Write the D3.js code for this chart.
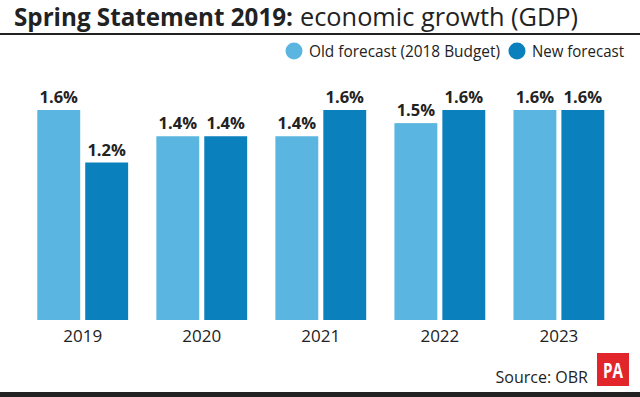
<!DOCTYPE html>
<html>
<head>
<meta charset="utf-8">
<script src="https://cdn.jsdelivr.net/npm/d3@7"></script>
<style>
  html, body { margin:0; padding:0; background:#fff; }
  svg { display:block; font-family:"Open Sans", "DejaVu Sans", sans-serif; }
</style>
</head>
<body>
<svg id="chart" width="640" height="397"></svg>
<script>
// --- data ---
const years = ['2019', '2020', '2021', '2022', '2023'];
const oldForecast = [1.6, 1.4, 1.4, 1.5, 1.6];
const newForecast = [1.2, 1.4, 1.6, 1.6, 1.6];
const seriesKeys = ['old', 'new'];
const seriesLabels = ['Old forecast (2018 Budget)', 'New forecast'];

const colors = { old:'#5ab6e0', new:'#0a80bd' };
const ink = '#222';

const rows = years.map((y, i) => ({ year:y, old:oldForecast[i], new:newForecast[i] }));

const svg = d3.select('#chart');
const W = 640, H = 397;

// squeeze text to a target width (source uses a condensed face)
function fit(sel, w){ sel.attr('textLength', w).attr('lengthAdjust', 'spacingAndGlyphs'); }

// --- title ---
fit(svg.append('text').attr('x', 14).attr('y', 26)
  .attr('font-size', 25).attr('font-weight', 700).attr('fill', ink)
  .text('Spring Statement 2019:'), 279);
fit(svg.append('text').attr('x', 300).attr('y', 26)
  .attr('font-size', 25).attr('fill', ink)
  .text('economic growth (GDP)'), 278);
svg.append('rect').attr('x', 0).attr('y', 33).attr('width', W).attr('height', 2).attr('fill', ink);

// --- legend ---
const legendX = [294, 517], legendW = [191, 92];
seriesKeys.forEach((k, i) => {
  svg.append('circle').attr('cx', legendX[i]).attr('cy', 51).attr('r', 8.5).attr('fill', colors[k]);
  fit(svg.append('text').attr('x', legendX[i] + 15).attr('y', 57)
    .attr('font-size', 16).attr('fill', ink).text(seriesLabels[i]), legendW[i]);
});

// --- scales ---
const x0 = d3.scaleBand().domain(years).range([37.3, 604.3]).paddingInner(0.237).paddingOuter(0);
const x1 = d3.scaleBand().domain(seriesKeys).range([0, x0.bandwidth()]).paddingInner(0.105);
const y = d3.scaleLinear().domain([0, 1.6]).range([320, 110]);

// --- bars ---
const groups = svg.append('g').selectAll('g')
  .data(rows)
  .join('g')
  .attr('transform', d => `translate(${x0(d.year)},0)`);

const cells = groups.selectAll('g')
  .data(d => seriesKeys.map(k => ({ key:k, value:d[k] })))
  .join('g');

cells.append('rect')
  .attr('x', d => x1(d.key))
  .attr('y', d => y(d.value))
  .attr('width', x1.bandwidth())
  .attr('height', d => y(0) - y(d.value))
  .attr('fill', d => colors[d.key]);

cells.append('text')
  .attr('x', d => x1(d.key) + x1.bandwidth() / 2)
  .attr('y', d => y(d.value) - 7)
  .attr('text-anchor', 'middle')
  .attr('font-size', 16.5).attr('font-weight', 700).attr('fill', ink)
  .text(d => d.value.toFixed(1) + '%');

// --- x axis labels ---
const xAxis = svg.append('g')
  .attr('transform', `translate(0,${y(0)})`)
  .call(d3.axisBottom(x0).tickSize(0).tickPadding(10));
xAxis.select('.domain').remove();
xAxis.selectAll('text')
  .attr('font-family', '"Open Sans", sans-serif')
  .attr('font-size', 17).attr('fill', ink)
  .attr('dy', '0.71em');

// --- footer ---
svg.append('text').attr('x', 588).attr('y', 383).attr('text-anchor', 'end')
  .attr('font-size', 16).attr('fill', ink).text('Source: OBR');
svg.append('rect').attr('x', 597).attr('y', 353).attr('width', 32).attr('height', 33).attr('fill', '#e2252b');
fit(svg.append('text').attr('x', 603).attr('y', 378)
  .attr('font-size', 21).attr('font-weight', 700).attr('fill', '#fff').text('PA'), 20);
svg.append('rect').attr('x', 0).attr('y', 392).attr('width', W).attr('height', 5).attr('fill', ink);
</script>
</body>
</html>
